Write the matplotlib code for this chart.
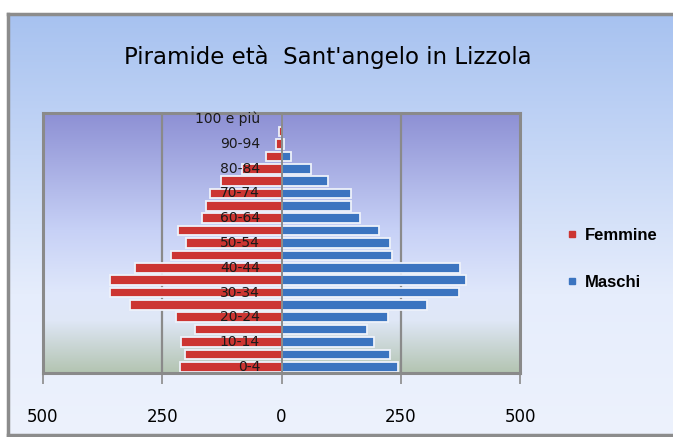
import numpy as np
import matplotlib
matplotlib.use('Agg')
import matplotlib.pyplot as plt
from matplotlib.colors import LinearSegmentedColormap
from matplotlib.lines import Line2D

# Age classes, bottom to top
ages = ['0-4', '5-9', '10-14', '15-19', '20-24', '25-29', '30-34', '35-39',
        '40-44', '45-49', '50-54', '55-59', '60-64', '65-69', '70-74',
        '75-79', '80-84', '85-89', '90-94', '95-99', '100 e più']
femmine = [212, 202, 210, 181, 221, 318, 360, 360, 307, 232, 200, 216,
           166, 158, 149, 127, 83, 33, 12, 6, 0]
maschi = [244, 228, 193, 179, 223, 304, 372, 386, 374, 232, 227, 204,
          165, 146, 145, 97, 62, 20, 6, 1, 0]
xticks = [-500, -250, 0, 250, 500]

C = {'f': '#cc3532', 'm': '#3b74c0', 'grid': '#8a8a8a'}

W, H = 673, 437
fig = plt.figure(figsize=(W / 100, H / 100), dpi=100)
fig.patch.set_facecolor('white')

# outer chart box with blue gradient
bg = fig.add_axes([8 / W, 2 / H, (W - 8) / W, (H - 16) / H])
bg_cmap = LinearSegmentedColormap.from_list('bg', ['#a7c2f0', '#c6d7f6', '#e6edfc', '#edf2fd'])
bg.imshow(np.linspace(0, 1, 256).reshape(-1, 1), cmap=bg_cmap, aspect='auto',
          extent=[0, 1, 0, 1], origin='upper')
bg.set_xlim(0, 1); bg.set_ylim(0, 1)
for s in bg.spines.values():
    s.set_color('#8c8c8c'); s.set_linewidth(2.5)
bg.spines['right'].set_visible(False)
bg.set_xticks([]); bg.set_yticks([])

fig.text(328 / W, 1 - 57 / H, "Piramide età  Sant'angelo in Lizzola",
         ha='center', va='center', fontsize=16.5)

# plot area
ax = fig.add_axes([43 / W, 1 - 373 / H, 477 / W, 260 / H])
pa_cmap = LinearSegmentedColormap.from_list(
    'pa', [(0, '#8d90d4'), (0.45, '#c7d1f6'), (0.7, '#e0e8fb'),
           (0.8, '#dfe7f6'), (1, '#b3c4b1')])
ax.imshow(np.linspace(0, 1, 256).reshape(-1, 1), cmap=pa_cmap, aspect='auto',
          extent=[-500, 500, -0.5, 20.5], origin='upper', zorder=0)

y = np.arange(len(ages))
for gx in (-250, 250):
    ax.axvline(gx, color=C['grid'], lw=1.6, zorder=1)

ax.barh(y, -np.array(femmine), height=0.78, color=C['f'],
        edgecolor='#eef2fa', linewidth=1.3, zorder=2, label='Femmine')
ax.barh(y, maschi, height=0.78, color=C['m'],
        edgecolor='#eef2fa', linewidth=1.3, zorder=2, label='Maschi')
ax.axvline(0, color=C['grid'], lw=1.4, zorder=3)

for i, lab in enumerate(ages):
    if i % 2 == 0:
        ax.text(-45, i, lab, ha='right', va='center', fontsize=10,
                color='#1a1a1a', zorder=4)

ax.set_xlim(-500, 500)
ax.set_ylim(-0.5, 20.5)
ax.set_yticks([])
ax.set_xticks(xticks)
ax.set_xticklabels([str(abs(v)) for v in xticks])
ax.tick_params(axis='x', length=8, width=1.2, color=C['grid'], labelsize=12, pad=17)
for s in ax.spines.values():
    s.set_color('#8a8a8a'); s.set_linewidth(2.2)

handles = [Line2D([], [], marker='s', ls='none', color=C['f'], markersize=5),
           Line2D([], [], marker='s', ls='none', color=C['m'], markersize=5)]
fig.legend(handles, ['Femmine', 'Maschi'], loc='center left',
           bbox_to_anchor=(552 / W, 1 - 259 / H), frameon=False,
           labelspacing=1.9, handlelength=0.6, handletextpad=0.45,
           prop={'family': 'Liberation Sans', 'weight': 'bold', 'size': 12})

plt.savefig('out.png', dpi=100, facecolor='white')
